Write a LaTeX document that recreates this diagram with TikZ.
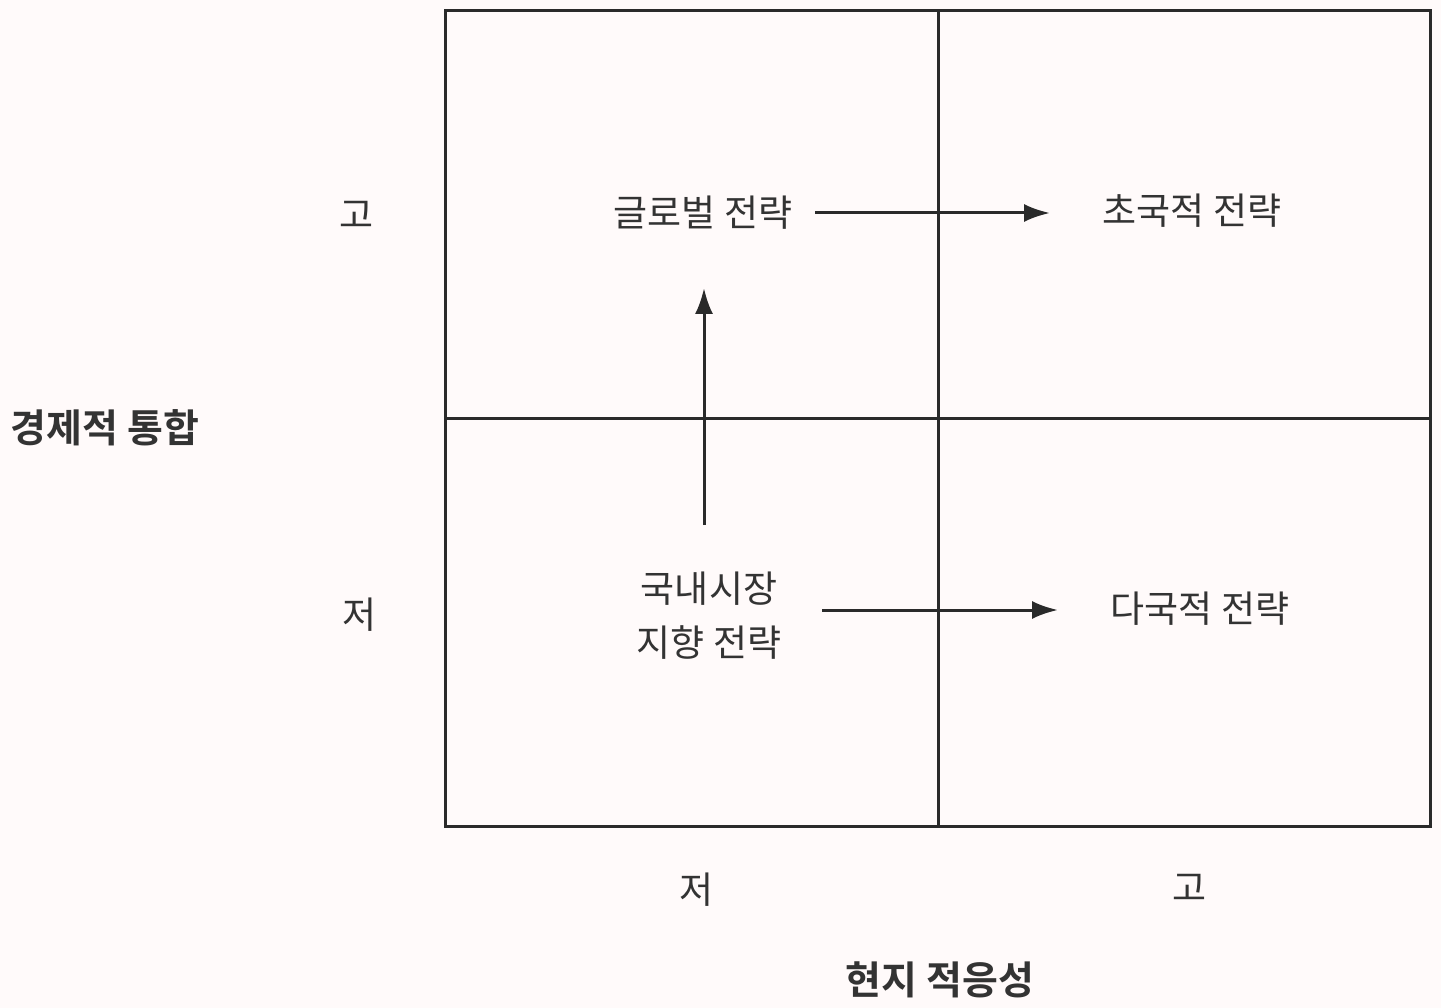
\documentclass[tikz,border=0pt]{standalone}
\usepackage{fontspec}
\setmainfont{Noto Sans CJK KR}
\newfontfamily\kbold{Noto Sans CJK KR Bold}
\usetikzlibrary{arrows.meta}
\definecolor{inkc}{HTML}{2A2A2A}
\definecolor{txtc}{HTML}{333333}
\tikzset{
  gridline/.style={draw=inkc, line width=3pt},
  lbl/.style={text=txtc, font=\fontsize{37}{42}\selectfont, inner sep=0pt},
  ttl/.style={text=txtc, font=\kbold\fontsize{39}{44}\selectfont, inner sep=0pt},
  flow/.style={draw=inkc, line width=3pt, -{Latex[length=26pt,width=18pt]}}
}
\begin{document}
\begin{tikzpicture}[x=1pt,y=-1pt]
\useasboundingbox (0,0) rectangle (1441,1008);
\fill[white!98!red] (0,0) rectangle (1441,1008);
% grid
\draw[gridline] (445,11) rectangle (1430,826);
\draw[gridline] (938,11) -- (938,826);
\draw[gridline] (445,418) -- (1430,418);
% cell labels
\node[lbl] (glob) at (703,213) {글로벌 전략};
\node[lbl] (trans) at (1192,211) {초국적 전략};
\node[lbl, align=center, font=\fontsize{37}{54}\selectfont] (dom) at (709,616) {국내시장\\지향 전략};
\node[lbl] (multi) at (1200,609) {다국적 전략};
% axis labels
\node[lbl] (yhi) at (357,215) {고};
\node[lbl] (ylo) at (360,615) {저};
\node[lbl] (xlo) at (697,890) {저};
\node[lbl] (xhi) at (1190,888) {고};
\node[ttl] (yttl) at (105,428) {경제적 통합};
\node[ttl] (xttl) at (940,980) {현지 적응성};
% arrows
\coordinate (s1) at (815,213);
\coordinate (a1) at (1050,213);
\coordinate (s2) at (704,525);
\coordinate (a2) at (704,288);
\coordinate (s3) at (822,610);
\coordinate (a3) at (1058,610);
\draw[flow] (s1) -- (a1);
\draw[flow] (s2) -- (a2);
\draw[flow] (s3) -- (a3);
\end{tikzpicture}
\end{document}
